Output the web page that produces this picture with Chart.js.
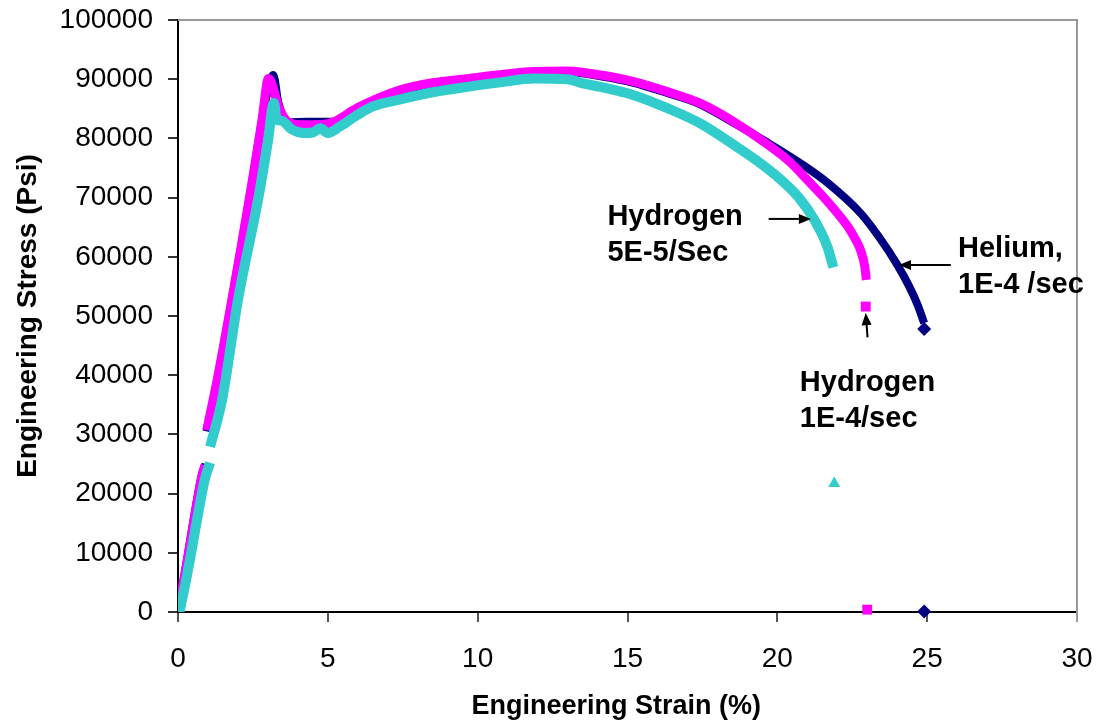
<!DOCTYPE html>
<html>
<head>
<meta charset="utf-8">
<script src="https://cdn.jsdelivr.net/npm/chart.js@4.4.1/dist/chart.umd.min.js"></script>
<style>
  html, body { margin: 0; padding: 0; background: #fff; }
  #wrap { width: 1096px; height: 723px; }
</style>
</head>
<body>
<div id="wrap"><canvas id="stressChart"></canvas></div>
<script>
// tick values
const xTicks = [0, 5, 10, 15, 20, 25, 30];
const yTicks = [0, 10000, 20000, 30000, 40000, 50000, 60000, 70000, 80000, 90000, 100000];

// Helium, 1E-4 /sec  (null = gap in the record)
const heliumStrain = [0, 0.3, 0.6, 0.8, 0.92, null, 0.95, 1.3, 1.7, 2.1, 2.5, 2.8, 3.05, 3.18, 3.35, 3.7, 4.3, 5.0, 5.4, 6.0, 7.4, 8.5, 9.65, 10.8, 11.9, 13.0, 14.1, 15.2, 16.3, 17.4, 18.55, 19.67, 20.8, 21.7, 22.79, 23.4, 24.01, 24.4, 24.68, 24.9];
const heliumStress = [0, 8800, 18000, 23300, 25000, null, 30500, 39000, 50000, 61500, 73500, 83000, 89200, 90700, 86000, 82700, 82800, 82800, 83000, 84900, 87900, 89200, 90000, 90600, 91100, 91200, 90500, 89400, 87700, 85800, 82600, 79300, 75700, 72400, 67300, 63300, 58600, 55000, 51900, 48800];

// Hydrogen, 1E-4/sec
const h2FastStrain = [0, 0.3, 0.6, 0.8, 0.9, null, 0.96, 1.3, 1.7, 2.1, 2.5, 2.8, 3.02, 3.4, 3.74, 4.3, 5.0, 5.2, 6.0, 7.42, 8.5, 9.65, 10.8, 11.87, 12.99, 14.1, 15.21, 16.33, 17.44, 18.55, 19.67, 20.4, 21.0, 21.5, 22.0, 22.34, 22.6, 22.8, 22.92, 22.97];
const h2FastStress = [0, 8500, 17500, 23000, 24800, null, 30700, 39000, 50000, 61500, 73500, 83000, 90100, 84800, 82600, 82300, 82500, 82800, 85200, 88200, 89400, 90100, 90800, 91300, 91400, 90700, 89600, 87900, 85900, 82800, 79000, 76100, 73000, 70300, 67400, 65200, 63000, 60800, 58300, 56100];

// Hydrogen, 5E-5/Sec
const h2SlowStrain = [0.05, 0.35, 0.65, 0.9, 1.07, null, 1.07, 1.47, 2.0, 2.67, 3.0, 3.2, 3.3, 3.45, 3.8, 4.2, 4.5, 4.75, 5.0, 5.4, 6.0, 6.5, 7.42, 8.5, 9.65, 10.8, 11.87, 12.99, 13.5, 14.1, 15.21, 16.33, 17.44, 18.55, 19.3, 20.1, 20.7, 21.23, 21.67, 21.87];
const h2SlowStress = [0, 7500, 16000, 22500, 25200, null, 27900, 35800, 52700, 69600, 79500, 86000, 83100, 83000, 81500, 80900, 81000, 81700, 80900, 82000, 84000, 85400, 86600, 87800, 88700, 89500, 90100, 90000, 89300, 88700, 87300, 85100, 82500, 78900, 76300, 73100, 70100, 66300, 61700, 58200];

// isolated end markers
const heliumMarkX = [24.9, 24.9];
const heliumMarkY = [47800, 100];
const h2FastMarkX = [22.95, 23.0];
const h2FastMarkY = [51600, 400];
const h2SlowMarkX = [21.9];
const h2SlowMarkY = [21700];

const pts = (xs, ys) => xs.map((v, i) => ({ x: v, y: ys[i] }));

const NAVY = '#000080', MAGENTA = '#FF00FF', TEAL = '#33CCCC';
const FONT = '"Liberation Sans", Arial, sans-serif';

// annotation text and arrows, placed in data units
const notes = [
  { lines: ['Hydrogen', '5E-5/Sec'], x: 14.33, y: [65400, 59300] },
  { lines: ['Helium,', '1E-4 /sec'], x: 26.03, y: [60000, 53900] },
  { lines: ['Hydrogen', '1E-4/sec'], x: 20.75, y: [37300, 31200] }
];
const arrows = [
  { from: [19.71, 66400], to: [21.12, 66400] },
  { from: [25.79, 58600], to: [24.06, 58600] },
  { from: [23.01, 46400], to: [22.95, 50500] }
];

const extras = {
  id: 'extras',
  beforeDatasetsDraw(chart) {
    const { ctx, chartArea: a } = chart;
    ctx.save();
    ctx.strokeStyle = '#999';
    ctx.lineWidth = 2;
    ctx.beginPath();
    ctx.moveTo(a.left, a.top);
    ctx.lineTo(a.right, a.top);
    ctx.lineTo(a.right, a.bottom + 10);
    ctx.stroke();
    ctx.restore();
  },
  afterDatasetsDraw(chart) {
    const { ctx, scales: { x, y } } = chart;
    ctx.save();
    ctx.fillStyle = '#000';
    ctx.font = 'bold 29px ' + FONT;
    ctx.textAlign = 'left';
    ctx.textBaseline = 'alphabetic';
    notes.forEach(n => {
      n.lines.forEach((t, i) => ctx.fillText(t, x.getPixelForValue(n.x), y.getPixelForValue(n.y[i])));
    });
    ctx.strokeStyle = '#000';
    ctx.lineWidth = 2;
    arrows.forEach(ar => {
      const x1 = x.getPixelForValue(ar.from[0]), y1 = y.getPixelForValue(ar.from[1]);
      const x2 = x.getPixelForValue(ar.to[0]), y2 = y.getPixelForValue(ar.to[1]);
      const ang = Math.atan2(y2 - y1, x2 - x1);
      const hl = 12, hw = 5;
      const bx = x2 - hl * Math.cos(ang), by = y2 - hl * Math.sin(ang);
      ctx.beginPath();
      ctx.moveTo(x1, y1);
      ctx.lineTo(bx, by);
      ctx.stroke();
      ctx.beginPath();
      ctx.moveTo(x2, y2);
      ctx.lineTo(bx + hw * Math.sin(ang), by - hw * Math.cos(ang));
      ctx.lineTo(bx - hw * Math.sin(ang), by + hw * Math.cos(ang));
      ctx.closePath();
      ctx.fill();
    });
    ctx.restore();
  }
};

const curve = (data, color, width) => ({
  data, showLine: true, borderColor: color, backgroundColor: color, borderWidth: width,
  pointRadius: 0, pointHoverRadius: 0, spanGaps: false, cubicInterpolationMode: 'monotone',
  borderJoinStyle: 'round'
});
const marks = (data, color, style, r) => ({
  data, showLine: false, pointStyle: style, pointRadius: r, pointBorderWidth: 0,
  backgroundColor: color, borderColor: color, clip: false
});

new Chart(document.getElementById('stressChart'), {
  type: 'scatter',
  data: {
    datasets: [
      marks(pts(h2SlowMarkX, h2SlowMarkY), TEAL, 'triangle', 7),
      marks(pts(h2FastMarkX, h2FastMarkY), MAGENTA, 'rect', 7),
      marks(pts(heliumMarkX, heliumMarkY), NAVY, 'rectRot', 7),
      curve(pts(h2SlowStrain, h2SlowStress), TEAL, 10),
      curve(pts(h2FastStrain, h2FastStress), MAGENTA, 9),
      curve(pts(heliumStrain, heliumStress), NAVY, 8)
    ]
  },
  plugins: [extras],
  options: {
    responsive: true, maintainAspectRatio: false, animation: false,
    layout: { padding: { top: 20, right: 19, left: 0, bottom: 0 } },
    plugins: { legend: { display: false }, tooltip: { enabled: false } },
    scales: {
      x: {
        type: 'linear', min: 0, max: 30,
        afterBuildTicks: s => { s.ticks = xTicks.map(v => ({ value: v })); },
        afterFit: s => { s.height = 111; s.paddingLeft = 0; s.paddingRight = 0; },
        grid: { drawOnChartArea: false, tickLength: 10, color: '#555', lineWidth: 2 },
        border: { color: '#000', width: 2 },
        ticks: { color: '#000', font: { family: FONT, size: 28 }, padding: 20, maxRotation: 0 },
        title: { display: true, text: 'Engineering Strain (%)   ', color: '#000',
          font: { family: FONT, size: 27, weight: 'bold' }, padding: { top: 0, bottom: 0 } }
      },
      y: {
        type: 'linear', min: 0, max: 100000,
        afterBuildTicks: s => { s.ticks = yTicks.map(v => ({ value: v })); },
        afterFit: s => { s.width = 178; s.paddingTop = 0; s.paddingBottom = 0; },
        grid: { drawOnChartArea: false, tickLength: 10, color: '#333', lineWidth: 2 },
        border: { color: '#000', width: 2 },
        ticks: { color: '#000', font: { family: FONT, size: 28 }, padding: 15,
          callback: v => String(v) },
        title: { display: true, text: 'Engineering Stress (Psi)', color: '#000',
          font: { family: FONT, size: 28, weight: 'bold' }, padding: { top: 11, bottom: 0 } }
      }
    }
  }
});
</script>
</body>
</html>
